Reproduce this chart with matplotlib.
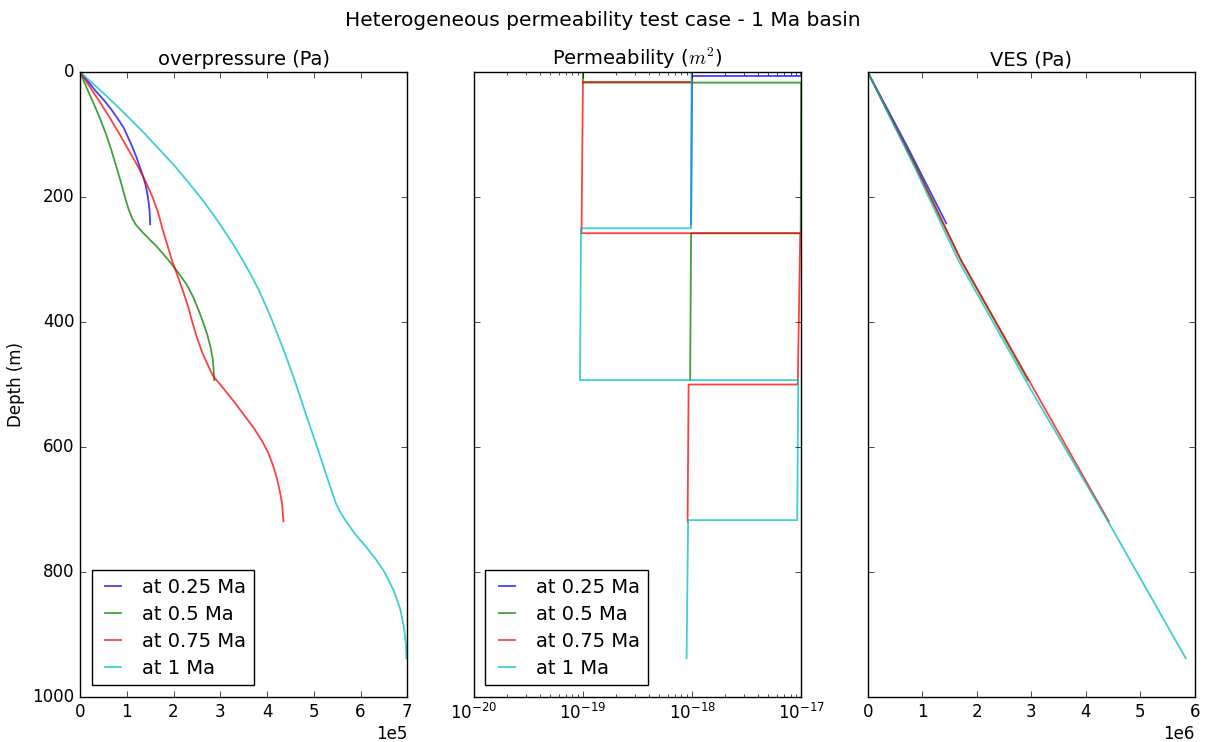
import numpy as np
import matplotlib
matplotlib.use('Agg')
import matplotlib.pyplot as plt

plt.style.use('classic')
plt.rcParams['figure.facecolor'] = 'white'
plt.rcParams['savefig.facecolor'] = 'white'
plt.rcParams['axes.formatter.limits'] = [-3, 4]

labels = ['at 0.25 Ma', 'at 0.5 Ma', 'at 0.75 Ma', 'at 1 Ma']
colors = ['b', 'g', 'r', 'c']

# overpressure (1e5 Pa) vs depth (m)
op_depth_025 = [0, 15, 30, 45, 60, 75, 90, 105, 120, 135, 150, 165, 180, 195, 210,
                225, 243.7]
op_025 = [0, 0.17, 0.33, 0.51, 0.67, 0.81, 0.94, 1.03, 1.12, 1.20, 1.27, 1.34, 1.40,
          1.44, 1.47, 1.49, 1.50]

op_depth_05 = [0, 25, 50, 75, 100, 125, 150, 175, 200, 220, 235, 245, 255, 265, 280,
               300, 320, 340, 360, 380, 400, 420, 440, 460, 480, 493]
op_05 = [0, 0.14, 0.29, 0.43, 0.56, 0.67, 0.77, 0.87, 0.96, 1.04, 1.12, 1.20, 1.32,
         1.45, 1.65, 1.88, 2.09, 2.28, 2.42, 2.53, 2.63, 2.72, 2.79, 2.84, 2.86, 2.87]

op_depth_075 = [0, 25, 50, 75, 100, 125, 150, 175, 200, 225, 250, 275, 300, 325, 350,
                375, 400, 425, 450, 470, 487, 500, 515, 530, 550, 570, 590, 610, 630,
                650, 670, 690, 719]
op_075 = [0, 0.22, 0.44, 0.65, 0.85, 1.04, 1.23, 1.40, 1.55, 1.67, 1.76, 1.86, 1.96,
          2.08, 2.20, 2.31, 2.40, 2.50, 2.62, 2.74, 2.85, 3.00, 3.16, 3.32, 3.52, 3.72,
          3.89, 4.03, 4.13, 4.21, 4.27, 4.32, 4.35]

op_depth_1 = [0, 25, 50, 75, 100, 125, 150, 175, 200, 225, 250, 275, 300, 325, 350,
              375, 400, 425, 450, 475, 500, 550, 600, 650, 690, 705, 720, 740, 760,
              780, 800, 830, 860, 890, 915, 938]
op_1 = [0, 0.37, 0.73, 1.07, 1.40, 1.71, 2.02, 2.30, 2.57, 2.82, 3.05, 3.27, 3.47,
        3.66, 3.83, 3.98, 4.12, 4.25, 4.38, 4.50, 4.62, 4.84, 5.07, 5.29, 5.47, 5.57,
        5.70, 5.89, 6.12, 6.33, 6.51, 6.71, 6.85, 6.93, 6.97, 6.98]

# permeability (m^2) vs depth (m), layered
perm_depth_025 = [0, 6.4, 6.4, 243.7]
perm_025 = [1.0e-17, 1.0e-17, 1.0e-18, 0.98e-18]

perm_depth_05 = [0, 17, 17, 258, 258, 493]
perm_05 = [1.0e-19, 1.0e-19, 1.0e-17, 0.99e-17, 0.98e-18, 0.96e-18]

perm_depth_075 = [0, 16, 16, 258, 258, 500, 500, 719]
perm_075 = [1.0e-18, 1.0e-18, 1.0e-19, 0.97e-19, 0.98e-17, 0.93e-17, 0.93e-18, 0.91e-18]

perm_depth_1 = [0, 250, 250, 493, 493, 717, 717, 938]
perm_1 = [0.99e-18, 0.98e-18, 0.96e-19, 0.94e-19, 0.94e-17, 0.92e-17, 0.92e-18, 0.89e-18]

# VES (1e6 Pa) vs depth (m)
ves_depth_025 = [0, 120, 242]
ves_025 = [0, 0.73, 1.44]

ves_depth_05 = [0, 150, 301, 493]
ves_05 = [0, 0.88, 1.71, 2.94]

ves_depth_075 = [0, 150, 301, 514, 719]
ves_075 = [0, 0.87, 1.71, 3.09, 4.42]

ves_depth_1 = [0, 150, 301, 514, 715, 938]
ves_1 = [0, 0.85, 1.66, 3.03, 4.38, 5.83]

op_x = [op_025, op_05, op_075, op_1]
op_y = [op_depth_025, op_depth_05, op_depth_075, op_depth_1]
perm_x = [perm_025, perm_05, perm_075, perm_1]
perm_y = [perm_depth_025, perm_depth_05, perm_depth_075, perm_depth_1]
ves_x = [ves_025, ves_05, ves_075, ves_1]
ves_y = [ves_depth_025, ves_depth_05, ves_depth_075, ves_depth_1]

fig, axes = plt.subplots(1, 3, sharey=True, figsize=(12.05, 7.42), dpi=100)
fig.subplots_adjust(left=0.0664, right=0.9917, bottom=0.0606, top=0.903, wspace=0.203)
fig.suptitle('Heterogeneous permeability test case - 1 Ma basin', fontsize=14.5, y=0.985)

leg_kw = dict(loc='lower left', fontsize=14, handlelength=1.4,
              handletextpad=0.8, labelspacing=0.4, borderaxespad=0.6)

ax1, ax2, ax3 = axes
for xs, ys, c, lab in zip(op_x, op_y, colors, labels):
    ax1.plot(np.array(xs) * 1e5, ys, color=c, alpha=0.75, lw=1.3, label=lab)
ax1.set_xlim(0, 7e5)
ax1.set_ylim(1000, 0)
ax1.set_yticks([0, 200, 400, 600, 800, 1000])
ax1.set_title('overpressure (Pa)', fontsize=14)
ax1.set_ylabel('Depth (m)', fontsize=12)
ax1.legend(**leg_kw)

for xs, ys, c, lab in zip(perm_x, perm_y, colors, labels):
    ax2.plot(xs, ys, color=c, alpha=0.75, lw=1.3, label=lab)
ax2.set_xscale('log')
ax2.set_xlim(1e-20, 1e-17)
ax2.set_title(r'Permeability ($m^2$)', fontsize=14)
ax2.legend(**leg_kw)

for xs, ys, c, lab in zip(ves_x, ves_y, colors, labels):
    ax3.plot(np.array(xs) * 1e6, ys, color=c, alpha=0.75, lw=1.3, label=lab)
ax3.set_xlim(0, 6e6)
ax3.set_title('VES (Pa)', fontsize=14)

for ax in axes:
    ax.tick_params(labelsize=12)
    ax.xaxis.get_offset_text().set_fontsize(12)

fig.savefig('out.png', dpi=100)
